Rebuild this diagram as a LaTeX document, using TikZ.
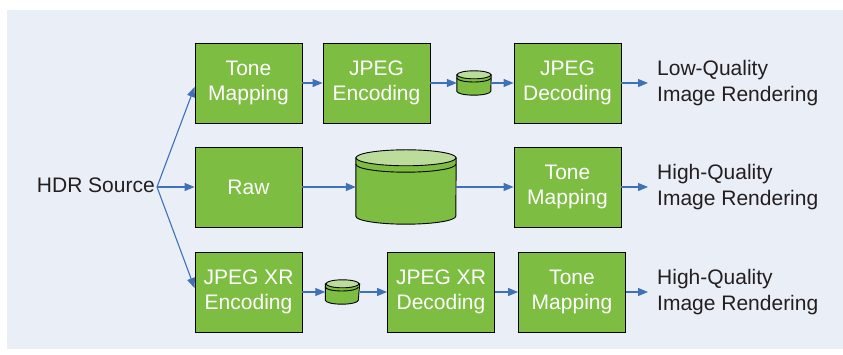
\documentclass[tikz,border=0pt]{standalone}
\usepackage{fontspec}
\setmainfont{Liberation Sans}
\usetikzlibrary{positioning}
\usetikzlibrary{arrows.meta}

\definecolor{panelblue}{HTML}{EAEEF7}
\definecolor{boxgreen}{HTML}{7DBE42}
\definecolor{lidgreen}{HTML}{BCDC9C}
\definecolor{flowblue}{HTML}{3F71B8}
\definecolor{inkgray}{HTML}{231F20}

\tikzset{
    stage/.style = {rectangle, draw = black, fill = boxgreen, text = white, line width = 0.9pt,
        minimum width = 107pt, minimum height = 80pt, align = center,
        font = \fontsize{21}{25.5}\selectfont},
    smalldisk/.style = {rectangle, minimum width = 34pt, minimum height = 24pt, inner sep = 0pt},
    bigdisk/.style = {rectangle, minimum width = 100pt, minimum height = 74pt, inner sep = 0pt},
    caption/.style = {align = left, inner sep = 0pt, text = inkgray,
        font = \fontsize{21}{25.5}\selectfont},
    flow/.style = {flowblue, line width = 1.1pt, -{Triangle[length = 10pt, width = 8pt]}},
}

\newcommand*{\drawdisk}[3]{% node, x radius, y radius
    \filldraw[fill = boxgreen, line width = 0.9pt] ([yshift = -#3]#1.north west) -- ([yshift = #3]#1.south west)
        arc[start angle = 180, end angle = 360, x radius = #2, y radius = #3]
        -- ([yshift = -#3]#1.north east) -- cycle;
    \draw[line width = 0.9pt] ([yshift = -1.8*#3]#1.north west)
        arc[start angle = 180, end angle = 360, x radius = #2, y radius = #3];
    \filldraw[fill = lidgreen, line width = 0.9pt] ([yshift = -#3]#1.north) ellipse[x radius = #2, y radius = #3];
}

\begin{document}
\begin{tikzpicture}[x = 1pt, y = 1pt]
    \useasboundingbox (0,0) rectangle (843,355);
    \fill[panelblue] (7,6) rectangle (843,345);

    \begin{scope}[on grid]

        % low quality path
        \node (tone1) at (248.5,272) [stage] {Tone\\Mapping};
        \node (enc1) [stage, right = 128pt of tone1] {JPEG\\Encoding};
        \node (disk1) [smalldisk, right = 97.5pt of enc1] {};
        \node (dec1) [stage, right = 93.5pt of disk1] {JPEG\\Decoding};
        \node (out1) [caption, right = 89.5pt of dec1, anchor = west] {Low-Quality\\Image Rendering};

        % raw path
        \node (raw) [stage, below = 104pt of tone1] {Raw};
        \node (disk2) [bigdisk, right = 157.5pt of raw] {};
        \node (tone2) [stage, right = 161.5pt of disk2] {Tone\\Mapping};
        \node (out2) [caption, right = 89.5pt of tone2, anchor = west] {High-Quality\\Image Rendering};

        % jpeg xr path
        \node (xrenc) [stage, below = 105pt of raw] {JPEG XR\\Encoding};
        \node (disk3) [smalldisk, right = 94pt of xrenc] {};
        \node (xrdec) [stage, right = 98.5pt of disk3] {JPEG XR\\Decoding};
        \node (tone3) [stage, right = 131pt of xrdec] {Tone\\Mapping};
        \node (out3) [caption, right = 85pt of tone3, anchor = west] {High-Quality\\Image Rendering};

        \node (split) [coordinate, left = 91.5pt of raw] {};
        \node (src) [caption, left = 2pt of split, anchor = east, yshift = 2pt] {HDR Source};

    \end{scope}

    \drawdisk{disk1}{17pt}{4pt}
    \drawdisk{disk2}{50pt}{8pt}
    \drawdisk{disk3}{16.5pt}{4pt}

    \draw[flow] (split) -- ([yshift = -4pt]tone1.west);
    \draw[flow] (split) -- (raw);
    \draw[flow] (split) -- ([yshift = 4pt]xrenc.west);

    \draw[flow] (tone1) -- (enc1);
    \draw[flow] (enc1) -- (disk1);
    \draw[flow] (disk1) -- (dec1);
    \draw[flow] (dec1) -- ([xshift = -9pt]out1.west);

    \draw[flow] (raw) -- (disk2);
    \draw[flow] (disk2) -- (tone2);
    \draw[flow] (tone2) -- ([xshift = -9pt]out2.west);

    \draw[flow] (xrenc) -- (disk3);
    \draw[flow] (disk3) -- (xrdec);
    \draw[flow] (xrdec) -- (tone3);
    \draw[flow] (tone3) -- ([xshift = -9pt]out3.west);

\end{tikzpicture}
\end{document}
